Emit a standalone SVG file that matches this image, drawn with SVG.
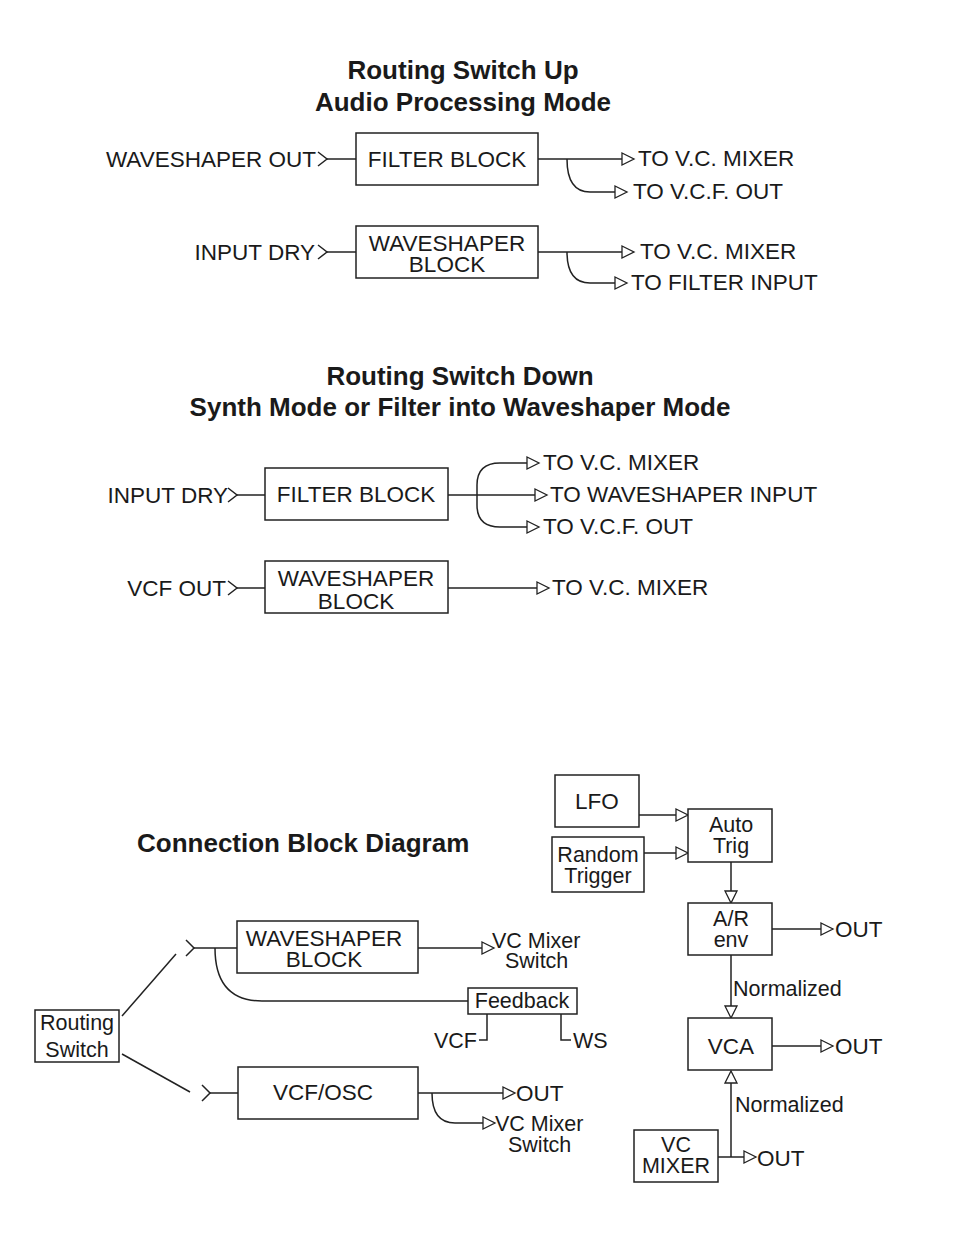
<svg xmlns="http://www.w3.org/2000/svg" width="954" height="1235" viewBox="0 0 954 1235">
<style>
text{font-family:"Liberation Sans",Arial,sans-serif;fill:#1a1a1a;font-size:22.5px}
.t{font-weight:bold;font-size:26px;text-anchor:middle}
.m{text-anchor:middle}
.e{text-anchor:end}
.s{font-size:21.5px}
rect{fill:#fff;stroke:#222;stroke-width:1.5}
.c path,.c line{fill:none;stroke:#222;stroke-width:1.5}
</style>
<defs>
<marker id="a" markerUnits="userSpaceOnUse" markerWidth="14" markerHeight="14" refX="0" refY="6" orient="auto" overflow="visible">
<path d="M0,0 L12,6 L0,12 Z" fill="#fff" stroke="#222" stroke-width="1.3"/>
</marker>
</defs>
<rect x="0" y="0" width="954" height="1235" style="stroke:none"/>
<text class="t" x="463" y="79">Routing Switch Up</text>
<text class="t" x="463" y="111">Audio Processing Mode</text>
<text class="t" x="460" y="385">Routing Switch Down</text>
<text class="t" x="460" y="416">Synth Mode or Filter into Waveshaper Mode</text>
<text class="t" x="137" y="852" style="text-anchor:start">Connection Block Diagram</text>

<g class="c" id="connectors">
<path d="M318,152 L327,159 L318,166"/><line x1="327" y1="159" x2="356" y2="159"/>
<line x1="538" y1="159" x2="622" y2="159" marker-end="url(#a)"/>
<path d="M567,159 Q567,192 590,192 H615" marker-end="url(#a)"/>
<path d="M318,245 L327,252 L318,259"/><line x1="327" y1="252" x2="356" y2="252"/>
<line x1="538" y1="252" x2="622" y2="252" marker-end="url(#a)"/>
<path d="M567,252 Q567,283 590,283 H615" marker-end="url(#a)"/>

<path d="M228,488 L237,495 L228,502"/><line x1="237" y1="495" x2="265" y2="495"/>
<line x1="448" y1="495" x2="535" y2="495" marker-end="url(#a)"/>
<path d="M477,495 V485 Q477,463 500,463 H527" marker-end="url(#a)"/>
<path d="M477,495 V505 Q477,527 500,527 H527" marker-end="url(#a)"/>
<path d="M228,581 L237,588 L228,595"/><line x1="237" y1="588" x2="265" y2="588"/>
<line x1="448" y1="588" x2="537" y2="588" marker-end="url(#a)"/>

<line x1="122" y1="1016" x2="176" y2="954"/>
<line x1="122" y1="1054" x2="190" y2="1092"/>
<path d="M186,940 L194,948 L186,956"/><line x1="194" y1="948" x2="237" y2="948"/>
<line x1="418" y1="948" x2="482" y2="948" marker-end="url(#a)"/>
<path d="M215,948 Q215,1001 262,1001 H468"/>
<path d="M487,1014 V1040 H479"/>
<path d="M561,1014 V1040 H571"/>
<path d="M202,1085 L210,1093 L202,1101"/><line x1="210" y1="1093" x2="238" y2="1093"/>
<line x1="418" y1="1093" x2="503" y2="1093" marker-end="url(#a)"/>
<path d="M432,1093 Q432,1123 455,1123 H483" marker-end="url(#a)"/>

<line x1="639" y1="815" x2="676" y2="815" marker-end="url(#a)"/>
<line x1="644" y1="853" x2="676" y2="853" marker-end="url(#a)"/>
<line x1="731" y1="862" x2="731" y2="891" marker-end="url(#a)"/>
<line x1="772" y1="929" x2="821" y2="929" marker-end="url(#a)"/>
<line x1="731" y1="955" x2="731" y2="1006" marker-end="url(#a)"/>
<line x1="772" y1="1046" x2="821" y2="1046" marker-end="url(#a)"/>
<line x1="731" y1="1157" x2="731" y2="1083" marker-end="url(#a)"/>
<line x1="718" y1="1157" x2="744" y2="1157" marker-end="url(#a)"/>
</g>

<g id="n1"><rect x="356" y="133" width="182" height="52"/><text class="m" x="447" y="167">FILTER BLOCK</text></g>
<g id="n2"><rect x="356" y="226" width="182" height="52"/><text class="m" x="447" y="251">WAVESHAPER</text><text class="m" x="447" y="272">BLOCK</text></g>
<g id="l1"><text class="e" x="316" y="167">WAVESHAPER OUT</text><text x="638" y="166">TO V.C. MIXER</text><text x="633" y="199">TO V.C.F. OUT</text></g>
<g id="l2"><text class="e" x="315" y="260">INPUT DRY</text><text x="640" y="259">TO V.C. MIXER</text><text x="631" y="290">TO FILTER INPUT</text></g>

<g id="n3"><rect x="265" y="468" width="183" height="52"/><text class="m" x="356" y="502">FILTER BLOCK</text></g>
<g id="n4"><rect x="265" y="561" width="183" height="52"/><text class="m" x="356" y="586">WAVESHAPER</text><text class="m" x="356" y="609">BLOCK</text></g>
<g id="l3"><text class="e" x="228" y="503">INPUT DRY</text><text x="543" y="470">TO V.C. MIXER</text><text x="550" y="502">TO WAVESHAPER INPUT</text><text x="543" y="534">TO V.C.F. OUT</text></g>
<g id="l4"><text class="e" x="226" y="596">VCF OUT</text><text x="552" y="595">TO V.C. MIXER</text></g>

<g id="routing"><rect x="35" y="1010" width="84" height="52"/><text class="m s" x="77" y="1030">Routing</text><text class="m s" x="77" y="1057">Switch</text></g>
<g id="ws"><rect x="237" y="921" width="181" height="52"/><text class="m" x="324" y="946">WAVESHAPER</text><text class="m" x="324" y="967">BLOCK</text></g>
<g id="wsout"><text x="492" y="948" class="s">VC Mixer</text><text x="505" y="968" class="s">Switch</text></g>
<g id="feedback"><rect x="468" y="988" width="109" height="26"/><text class="m s" x="522" y="1008">Feedback</text><text class="e s" x="477" y="1048">VCF</text><text class="s" x="573" y="1048">WS</text></g>
<g id="vcfosc"><rect x="238" y="1067" width="180" height="52"/><text class="m" x="323" y="1100">VCF/OSC</text></g>
<g id="vcfout"><text x="516" y="1101">OUT</text><text x="495" y="1131" class="s">VC Mixer</text><text x="508" y="1152" class="s">Switch</text></g>

<g id="lfo"><rect x="555" y="775" width="84" height="52"/><text class="m" x="597" y="809">LFO</text></g>
<g id="random"><rect x="552" y="837" width="92" height="55"/><text class="m s" x="598" y="862">Random</text><text class="m s" x="598" y="883">Trigger</text></g>
<g id="autotrig"><rect x="688" y="809" width="84" height="53"/><text class="m s" x="731" y="832">Auto</text><text class="m s" x="731" y="853">Trig</text></g>
<g id="ar"><rect x="688" y="903" width="84" height="52"/><text class="m s" x="731" y="926">A/R</text><text class="m s" x="731" y="947">env</text><text x="835" y="937">OUT</text></g>
<g id="vca"><rect x="688" y="1018" width="84" height="52"/><text class="m" x="731" y="1054">VCA</text><text x="835" y="1054">OUT</text><text x="733" y="996" class="s">Normalized</text></g>
<g id="vcmixer"><rect x="634" y="1130" width="84" height="52"/><text class="m s" x="676" y="1152">VC</text><text class="m s" x="676" y="1173">MIXER</text><text x="757" y="1166">OUT</text><text x="735" y="1112" class="s">Normalized</text></g>
</svg>
